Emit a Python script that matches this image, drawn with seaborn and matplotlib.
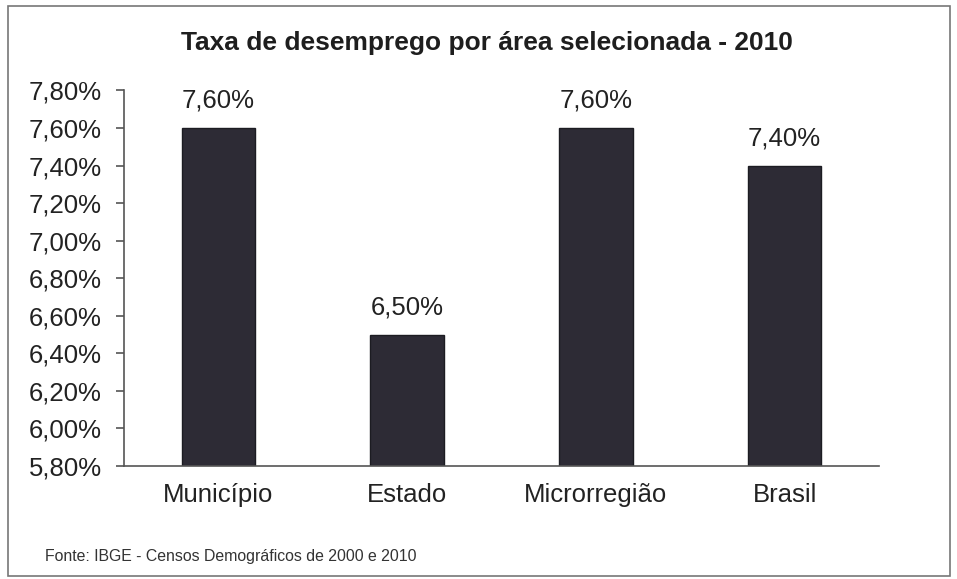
import matplotlib
matplotlib.use("Agg")
import matplotlib.pyplot as plt
import seaborn as sns
import pandas as pd
from matplotlib.ticker import FuncFormatter
from matplotlib.patches import Rectangle

# data
areas = ["Município", "Estado", "Microrregião", "Brasil"]
taxa = [7.60, 6.50, 7.60, 7.40]
y_ticks = [5.8, 6.0, 6.2, 6.4, 6.6, 6.8, 7.0, 7.2, 7.4, 7.6, 7.8]

titulo = "Taxa de desemprego por área selecionada - 2010"
fonte = "Fonte: IBGE - Censos Demográficos de 2000 e 2010"

sns.set_theme(style="white")
plt.rcParams['font.family'] = ['Liberation Sans', 'DejaVu Sans']

df = pd.DataFrame({'Area': areas, 'Taxa': taxa})

fig = plt.figure(figsize=(9.57, 5.79), dpi=100)
ax = fig.add_axes([0.1296, 0.1952, 0.7889, 0.6485])

sns.barplot(data=df, x='Area', y='Taxa', ax=ax, color="#2d2b35",
            width=0.39, edgecolor="#1c1c22", linewidth=1, saturation=1)

ax.set_ylim(5.8, 7.8)
ax.set_yticks(y_ticks)
ax.yaxis.set_major_formatter(FuncFormatter(lambda v, p: f"{v:.2f}".replace('.', ',') + "%"))
ax.set_xlabel("")
ax.set_ylabel("")

for s in ['top', 'right']:
    ax.spines[s].set_visible(False)
for s in ['left', 'bottom']:
    ax.spines[s].set_color("#555555")
    ax.spines[s].set_linewidth(1.2)

ax.tick_params(axis='y', which='major', direction='out', length=6, width=1.2,
               color="#555555", labelsize=18.5, labelcolor="#222222", pad=10, left=True)
ax.tick_params(axis='x', length=0, labelsize=18.5, labelcolor="#222222", pad=12)

for p, v in zip(ax.patches, taxa):
    ax.annotate(f"{v:.2f}".replace('.', ',') + "%",
                (p.get_x() + p.get_width() / 2, p.get_height()),
                xytext=(0, 11), textcoords='offset points',
                ha='center', va='bottom', fontsize=18.5, color="#222222")

fig.text(0.509, 0.925, titulo, ha='center', va='center', fontsize=19,
         fontweight='bold', color="#1e1e1e")
fig.text(0.047, 0.038, fonte, ha='left', va='center', fontsize=11.4, color="#333333")

# outer frame of the chart
fig.patches.append(Rectangle((0.0085, 0.006), 0.984, 0.984, transform=fig.transFigure,
                             fill=False, edgecolor="#777777", linewidth=1.2))

fig.savefig("out.png", dpi=100)
